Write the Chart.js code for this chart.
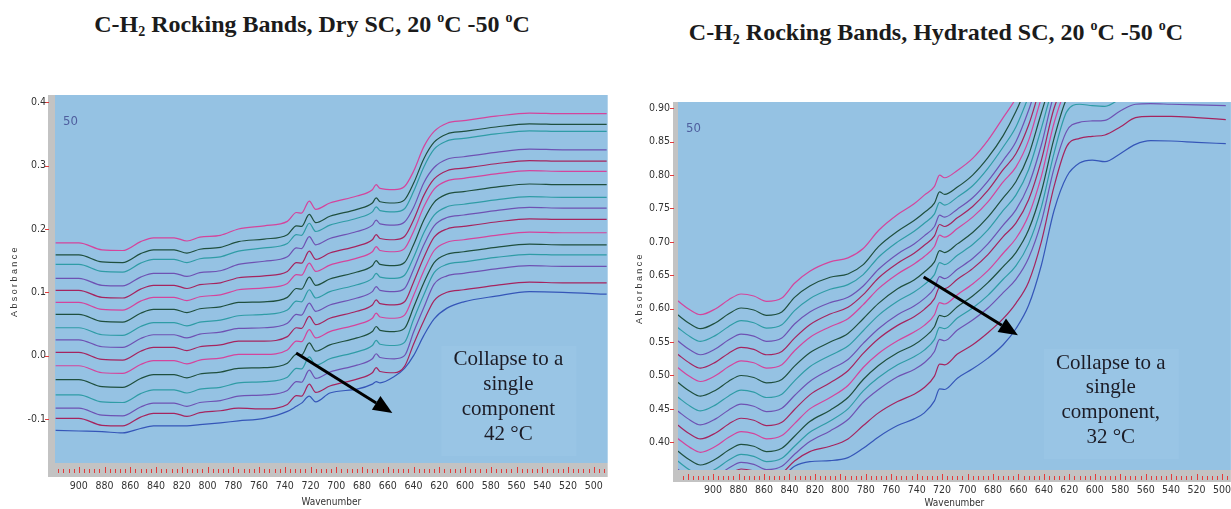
<!DOCTYPE html>
<html>
<head>
<meta charset="utf-8">
<script src="https://cdn.jsdelivr.net/npm/chart.js@4.4.1/dist/chart.umd.min.js"></script>
<style>
  html,body{margin:0;padding:0;background:#fff;width:1231px;height:509px;overflow:hidden;position:relative}
  canvas{position:absolute;top:0}
  #dry{left:0}
  #hyd{left:620px}
  .ttl{position:absolute;font-family:"Liberation Serif","Times New Roman",serif;font-weight:bold;font-size:24px;line-height:24px;color:#1b1b1b;white-space:nowrap;transform:translateX(-50%)}
  .ttl sub,.ttl sup{font-size:14px;position:relative;vertical-align:baseline;line-height:0}
  .ttl sub{top:4px}
  .ttl sup{top:-10px}
</style>
</head>
<body>
<div class="ttl" style="left:312px;top:12px">C-H<sub>2</sub> Rocking Bands, Dry SC, 20 <sup>o</sup>C -50 <sup>o</sup>C</div>
<div class="ttl" style="left:936px;top:20px">C-H<sub>2</sub> Rocking Bands, Hydrated SC, 20 <sup>o</sup>C -50 <sup>o</sup>C</div>
<canvas id="dry" width="620" height="509"></canvas>
<canvas id="hyd" width="625" height="509"></canvas>
<script>
// wavenumbers (cm-1) the spectra are sampled at
const WN_DRY = [918,900,882,866,852,842,826,816,806,790,776,756,738,731,727,721,716,705,684,672,669,666,655,647,640,632,624,614,601,576,550,524,490];
const WN_HYD = [928,918,910,898,888,878,868,858,846,836,824,808,794,782,770,755,742,734,726,722,718,708,696,684,672,662,652,642,632,622,612,602,592,580,568,556,540,520,497];

// dry SC, top trace to bottom trace
const dry01 = [0.178,0.178,0.167,0.166,0.180,0.186,0.186,0.181,0.187,0.190,0.200,0.205,0.212,0.226,0.225,0.244,0.231,0.241,0.252,0.262,0.270,0.264,0.262,0.267,0.291,0.330,0.354,0.367,0.371,0.378,0.383,0.382,0.382];
const dry02 = [0.159,0.159,0.148,0.147,0.161,0.167,0.167,0.162,0.168,0.171,0.180,0.184,0.191,0.205,0.204,0.223,0.210,0.220,0.231,0.241,0.249,0.243,0.241,0.246,0.272,0.311,0.337,0.350,0.354,0.361,0.366,0.365,0.365];
const dry03 = [0.144,0.144,0.133,0.132,0.146,0.152,0.152,0.147,0.153,0.156,0.165,0.170,0.177,0.191,0.190,0.209,0.196,0.206,0.217,0.227,0.235,0.229,0.227,0.232,0.259,0.298,0.326,0.339,0.343,0.350,0.355,0.354,0.354];
const dry04 = [0.122,0.122,0.111,0.110,0.124,0.130,0.130,0.125,0.131,0.134,0.144,0.149,0.156,0.170,0.169,0.188,0.175,0.185,0.196,0.206,0.214,0.208,0.206,0.211,0.234,0.273,0.297,0.310,0.314,0.321,0.326,0.325,0.325];
const dry05 = [0.103,0.103,0.092,0.091,0.105,0.111,0.111,0.106,0.112,0.115,0.123,0.126,0.133,0.147,0.146,0.165,0.152,0.162,0.173,0.183,0.191,0.185,0.183,0.188,0.214,0.253,0.279,0.292,0.296,0.303,0.308,0.307,0.307];
const dry06 = [0.084,0.084,0.073,0.072,0.086,0.092,0.092,0.087,0.093,0.096,0.104,0.107,0.114,0.128,0.127,0.146,0.133,0.143,0.154,0.164,0.172,0.166,0.164,0.169,0.196,0.235,0.263,0.276,0.280,0.287,0.292,0.291,0.291];
const dry07 = [0.065,0.065,0.054,0.053,0.067,0.073,0.073,0.068,0.074,0.077,0.084,0.085,0.092,0.106,0.105,0.124,0.111,0.121,0.132,0.142,0.150,0.144,0.142,0.147,0.175,0.214,0.242,0.255,0.259,0.266,0.271,0.270,0.270];
const dry08 = [0.044,0.044,0.033,0.032,0.046,0.052,0.052,0.047,0.053,0.056,0.063,0.065,0.072,0.086,0.085,0.104,0.091,0.101,0.112,0.122,0.130,0.124,0.122,0.127,0.155,0.194,0.222,0.235,0.239,0.246,0.251,0.250,0.250];
const dry09 = [0.025,0.025,0.014,0.013,0.027,0.033,0.033,0.028,0.034,0.037,0.043,0.044,0.051,0.065,0.064,0.083,0.070,0.080,0.091,0.101,0.109,0.103,0.101,0.106,0.136,0.175,0.205,0.218,0.222,0.229,0.234,0.233,0.233];
const dry10 = [0.005,0.005,-0.006,-0.007,0.007,0.013,0.013,0.008,0.014,0.017,0.023,0.023,0.030,0.044,0.043,0.062,0.049,0.059,0.070,0.080,0.088,0.082,0.080,0.085,0.116,0.155,0.187,0.200,0.204,0.211,0.216,0.215,0.215];
const dry11 = [-0.016,-0.016,-0.027,-0.028,-0.014,-0.008,-0.008,-0.013,-0.007,-0.004,0.002,0.002,0.009,0.023,0.022,0.041,0.028,0.038,0.049,0.059,0.067,0.061,0.059,0.064,0.095,0.134,0.166,0.179,0.183,0.190,0.195,0.194,0.194];
const dry12 = [-0.038,-0.038,-0.049,-0.050,-0.036,-0.030,-0.030,-0.035,-0.029,-0.026,-0.020,-0.019,-0.012,0.002,0.001,0.020,0.007,0.017,0.028,0.038,0.046,0.040,0.038,0.043,0.076,0.115,0.147,0.160,0.164,0.171,0.176,0.175,0.175];
const dry13 = [-0.062,-0.062,-0.073,-0.074,-0.060,-0.054,-0.054,-0.059,-0.053,-0.050,-0.043,-0.041,-0.034,-0.020,-0.021,-0.002,-0.015,-0.005,0.006,0.016,0.024,0.018,0.016,0.021,0.057,0.096,0.131,0.144,0.148,0.155,0.160,0.159,0.159];
const dry14 = [-0.083,-0.083,-0.094,-0.095,-0.081,-0.075,-0.075,-0.080,-0.074,-0.071,-0.064,-0.062,-0.055,-0.041,-0.042,-0.023,-0.036,-0.026,-0.015,-0.005,0.003,-0.003,-0.005,0.000,0.037,0.076,0.113,0.126,0.130,0.137,0.142,0.141,0.141];
const dry15 = [-0.099,-0.099,-0.110,-0.111,-0.097,-0.091,-0.091,-0.096,-0.090,-0.087,-0.083,-0.084,-0.077,-0.063,-0.064,-0.045,-0.058,-0.048,-0.037,-0.027,-0.019,-0.025,-0.027,-0.017,0.018,0.055,0.087,0.100,0.104,0.111,0.116,0.115,0.115];
const dry16 = [-0.118,-0.119,-0.120,-0.122,-0.115,-0.111,-0.111,-0.111,-0.109,-0.106,-0.103,-0.099,-0.088,-0.080,-0.075,-0.064,-0.073,-0.059,-0.053,-0.045,-0.041,-0.043,-0.033,-0.020,0.000,0.032,0.058,0.075,0.085,0.094,0.101,0.100,0.097];

// hydrated SC, top trace to bottom trace (values above 0.91 run off the top)
const hyd01 = [0.612,0.598,0.591,0.600,0.613,0.622,0.619,0.611,0.616,0.638,0.656,0.670,0.676,0.690,0.717,0.741,0.757,0.770,0.783,0.800,0.796,0.807,0.825,0.852,0.886,0.915,0.955,1.00,1.04,1.08,1.10,1.11,1.11,1.12,1.13,1.135,1.135,1.135,1.13];
const hyd02 = [0.591,0.577,0.570,0.579,0.592,0.601,0.598,0.590,0.595,0.617,0.634,0.647,0.652,0.666,0.693,0.716,0.732,0.744,0.758,0.775,0.771,0.782,0.800,0.826,0.859,0.895,0.94,0.99,1.03,1.06,1.08,1.09,1.09,1.10,1.11,1.115,1.115,1.115,1.11];
const hyd03 = [0.572,0.558,0.551,0.560,0.573,0.582,0.579,0.571,0.576,0.597,0.615,0.629,0.636,0.651,0.677,0.700,0.716,0.728,0.742,0.759,0.755,0.767,0.784,0.810,0.842,0.872,0.918,0.97,1.01,1.04,1.06,1.07,1.07,1.08,1.09,1.095,1.095,1.095,1.09];
const hyd04 = [0.552,0.538,0.531,0.540,0.553,0.562,0.559,0.551,0.556,0.577,0.595,0.609,0.617,0.634,0.659,0.682,0.697,0.709,0.723,0.740,0.737,0.749,0.766,0.791,0.822,0.850,0.897,0.955,0.995,1.02,1.04,1.05,1.05,1.06,1.07,1.075,1.075,1.075,1.07];
const hyd05 = [0.532,0.518,0.511,0.520,0.533,0.542,0.539,0.531,0.536,0.556,0.576,0.592,0.602,0.621,0.646,0.668,0.683,0.695,0.709,0.726,0.723,0.736,0.753,0.777,0.808,0.832,0.875,0.935,0.98,1.005,1.02,1.03,1.03,1.04,1.05,1.055,1.055,1.055,1.05];
const hyd06 = [0.512,0.498,0.491,0.500,0.513,0.522,0.519,0.511,0.516,0.537,0.557,0.573,0.585,0.606,0.630,0.652,0.667,0.678,0.693,0.710,0.707,0.720,0.737,0.760,0.790,0.812,0.852,0.915,0.965,0.99,1.0,1.01,1.01,1.02,1.03,1.035,1.035,1.035,1.03];
const hyd07 = [0.490,0.476,0.469,0.478,0.491,0.500,0.497,0.489,0.494,0.514,0.534,0.550,0.563,0.585,0.608,0.630,0.643,0.655,0.670,0.687,0.684,0.697,0.714,0.737,0.766,0.790,0.830,0.893,0.950,0.975,0.985,0.995,0.995,1.005,1.015,1.02,1.02,1.02,1.015];
const hyd08 = [0.468,0.454,0.447,0.456,0.469,0.478,0.475,0.467,0.472,0.492,0.513,0.530,0.544,0.567,0.590,0.611,0.625,0.636,0.651,0.669,0.666,0.680,0.696,0.718,0.747,0.770,0.808,0.870,0.935,0.962,0.970,0.98,0.98,0.99,1.0,1.005,1.005,1.005,1.0];
const hyd09 = [0.447,0.433,0.426,0.435,0.448,0.457,0.454,0.446,0.451,0.470,0.491,0.509,0.524,0.548,0.570,0.591,0.604,0.615,0.631,0.648,0.645,0.659,0.675,0.697,0.725,0.748,0.785,0.845,0.92,0.95,0.958,0.965,0.965,0.975,0.985,0.99,0.99,0.99,0.985];
const hyd10 = [0.426,0.412,0.405,0.414,0.427,0.436,0.433,0.425,0.430,0.449,0.471,0.489,0.507,0.533,0.555,0.575,0.588,0.599,0.615,0.632,0.630,0.644,0.660,0.681,0.708,0.728,0.763,0.822,0.900,0.940,0.950,0.955,0.955,0.965,0.975,0.98,0.98,0.98,0.975];
const hyd11 = [0.406,0.392,0.385,0.394,0.407,0.416,0.413,0.405,0.410,0.428,0.450,0.467,0.485,0.512,0.533,0.552,0.565,0.575,0.591,0.609,0.607,0.621,0.637,0.657,0.683,0.705,0.740,0.798,0.878,0.930,0.945,0.950,0.950,0.96,0.97,0.975,0.975,0.975,0.97];
const hyd12 = [0.387,0.373,0.366,0.375,0.388,0.397,0.394,0.386,0.391,0.409,0.431,0.448,0.467,0.494,0.515,0.534,0.546,0.557,0.573,0.590,0.588,0.603,0.619,0.639,0.663,0.684,0.718,0.775,0.855,0.915,0.935,0.940,0.940,0.95,0.96,0.965,0.965,0.965,0.96];
const hyd13 = [0.372,0.358,0.351,0.360,0.373,0.382,0.379,0.371,0.376,0.394,0.415,0.432,0.450,0.477,0.497,0.516,0.528,0.538,0.554,0.572,0.570,0.586,0.601,0.620,0.644,0.664,0.697,0.752,0.833,0.895,0.906,0.904,0.903,0.915,0.935,0.945,0.948,0.948,0.946];
const hyd14 = [0.360,0.346,0.339,0.348,0.361,0.370,0.367,0.359,0.364,0.382,0.401,0.417,0.434,0.460,0.479,0.498,0.509,0.519,0.536,0.554,0.552,0.568,0.583,0.601,0.624,0.644,0.676,0.730,0.810,0.866,0.879,0.881,0.882,0.896,0.906,0.907,0.906,0.905,0.904];
const hyd15 = [0.350,0.336,0.329,0.338,0.351,0.360,0.357,0.349,0.354,0.372,0.386,0.394,0.405,0.425,0.444,0.461,0.472,0.482,0.499,0.517,0.516,0.532,0.546,0.564,0.585,0.608,0.640,0.700,0.783,0.843,0.855,0.858,0.860,0.872,0.886,0.888,0.888,0.886,0.883];
const hyd16 = [0.342,0.328,0.321,0.330,0.343,0.352,0.349,0.341,0.348,0.364,0.371,0.3725,0.377,0.391,0.408,0.425,0.435,0.444,0.462,0.480,0.479,0.496,0.510,0.526,0.546,0.570,0.605,0.665,0.747,0.798,0.818,0.8225,0.820,0.832,0.846,0.8515,0.851,0.849,0.847];

const DRY = [dry01,dry02,dry03,dry04,dry05,dry06,dry07,dry08,dry09,dry10,dry11,dry12,dry13,dry14,dry15,dry16];
const HYD = [hyd01,hyd02,hyd03,hyd04,hyd05,hyd06,hyd07,hyd08,hyd09,hyd10,hyd11,hyd12,hyd13,hyd14,hyd15,hyd16];

const CYCLE = ['#d4449c','#1f4f3e','#2f9ca6','#6e52b3','#a5245f'];
const LAST = '#3556b8';
const PLOT_BG = '#95c2e3';
const NARROW = '"Liberation Sans Narrow","DejaVu Sans Condensed","Arial Narrow",sans-serif';

function spectra(wn, list){
  return list.map((vals, i) => ({
    data: wn.map((w, k) => ({x: w, y: vals[k]})),
    borderColor: i === list.length-1 ? LAST : CYCLE[i % CYCLE.length],
    borderWidth: 1.2, pointRadius: 0, fill: false,
    cubicInterpolationMode: 'monotone'
  }));
}

// grey frame strips + red tick marks, like the instrument software
function frame(c){
  return {
    id: 'frame',
    beforeDraw(chart){
      const {ctx, chartArea: a} = chart;
      const xs = chart.scales.x, ys = chart.scales.y;
      ctx.save();
      ctx.fillStyle = PLOT_BG;
      ctx.fillRect(a.left, a.top, a.right-a.left, a.bottom-a.top);
      ctx.fillStyle = '#c3c3c3';
      ctx.fillRect(a.left-c.strip, a.top, c.strip, a.bottom-a.top+c.band);
      ctx.fillRect(a.left-c.strip, a.bottom, a.right-a.left+c.strip, c.band);
      ctx.strokeStyle = '#e23b3b'; ctx.lineWidth = 1;
      for(let w = Math.ceil(xs.min/4)*4; w <= xs.max; w += 4){
        const px = Math.round(xs.getPixelForValue(w)) + 0.5;
        ctx.beginPath();
        ctx.moveTo(px, a.bottom + (w % 20 === 0 ? 4 : 6));
        ctx.lineTo(px, a.bottom + 10);
        ctx.stroke();
      }
      ys.ticks.forEach(t => {
        const py = Math.round(ys.getPixelForValue(t.value)) + 0.5;
        ctx.beginPath(); ctx.moveTo(a.left-c.strip-3, py); ctx.lineTo(a.left-c.strip+1, py); ctx.stroke();
      });
      ctx.restore();
    }
  };
}

// "50" label, y title, arrow and the text box
function notes(c){
  return {
    id: 'notes',
    afterDraw(chart){
      const {ctx, chartArea: a} = chart;
      const xs = chart.scales.x, ys = chart.scales.y;
      ctx.save();
      ctx.font = '13px ' + NARROW;
      ctx.fillStyle = '#4f5e9e'; ctx.textAlign = 'left'; ctx.textBaseline = 'middle';
      ctx.fillText('50', a.left + 8, a.top + 27);

      ctx.save();
      ctx.translate(c.titleX, (a.top + a.bottom)/2 + 2);
      ctx.rotate(-Math.PI/2);
      ctx.font = '9px "Liberation Sans",Arial,sans-serif';
      ctx.letterSpacing = '2.4px';
      ctx.fillStyle = '#333'; ctx.textAlign = 'center';
      ctx.fillText('Absorbance', 0, 0);
      ctx.restore();

      // arrow
      const x1 = xs.getPixelForValue(c.arrow[0]), y1 = ys.getPixelForValue(c.arrow[1]);
      const x2 = xs.getPixelForValue(c.arrow[2]), y2 = ys.getPixelForValue(c.arrow[3]);
      const ang = Math.atan2(y2-y1, x2-x1), hl = 19, hw = 8;
      ctx.strokeStyle = '#000'; ctx.fillStyle = '#000'; ctx.lineWidth = 3;
      ctx.beginPath(); ctx.moveTo(x1, y1);
      ctx.lineTo(x2 - hl*Math.cos(ang), y2 - hl*Math.sin(ang)); ctx.stroke();
      ctx.beginPath();
      ctx.moveTo(x2, y2);
      ctx.lineTo(x2 - hl*Math.cos(ang) + hw*Math.sin(ang), y2 - hl*Math.sin(ang) - hw*Math.cos(ang));
      ctx.lineTo(x2 - hl*Math.cos(ang) - hw*Math.sin(ang), y2 - hl*Math.sin(ang) + hw*Math.cos(ang));
      ctx.closePath(); ctx.fill();

      // text box
      const cx = xs.getPixelForValue(c.textAt[0]), cy = ys.getPixelForValue(c.textAt[1]);
      const lh = 24.7;
      ctx.font = '21px "Liberation Serif","Times New Roman",serif';
      ctx.fillStyle = '#99c5e5';
      ctx.fillRect(cx - 67, cy - 14, 135, lh*(c.lines.length-1) + 36);
      ctx.fillStyle = '#1c1c26'; ctx.textAlign = 'center'; ctx.textBaseline = 'middle';
      c.lines.forEach((l, i) => ctx.fillText(l, cx, cy + i*lh));
      ctx.restore();
    }
  };
}

function panel(id, wn, list, c){
  return new Chart(document.getElementById(id), {
    type: 'line',
    data: { datasets: spectra(wn, list) },
    options: {
      responsive: false, animation: false, events: [],
      layout: { padding: { top: c.padTop, right: c.padRight, left: 0, bottom: 0 } },
      plugins: { legend: {display: false}, tooltip: {enabled: false} },
      scales: {
        x: {
          type: 'linear', reverse: true, min: c.xMin, max: c.xMax,
          afterFit: s => { s.height = c.xHeight; },
          grid: {display: false, drawTicks: false}, border: {display: false},
          ticks: {stepSize: 20, includeBounds: false, autoSkip: false, maxRotation: 0,
                  padding: c.xPad, color: '#333', font: {family: NARROW, size: 10.5},
                  callback: v => v <= 900 ? String(v) : ''},
          title: {display: true, text: 'Wavenumber', color: '#333',
                  font: {family: NARROW, size: 10}, padding: {top: 0, bottom: c.xTitlePad}}
        },
        y: {
          min: c.yMin, max: c.yMax,
          afterFit: s => { s.width = c.yWidth; },
          grid: {display: false, drawTicks: false}, border: {display: false},
          ticks: {stepSize: c.yStep, includeBounds: false, padding: c.yPad, color: '#333',
                  font: {family: NARROW, size: 10.5},
                  callback: v => Math.abs(v) < 1e-9 ? (0).toFixed(c.yDec) : v.toFixed(c.yDec)}
        }
      }
    },
    plugins: [frame(c), notes(c)]
  });
}

panel('dry', WN_DRY, DRY, {
  padTop: 95, padRight: 8, xMin: 489.2, xMax: 918.5, yMin: -0.1695, yMax: 0.4115,
  xHeight: 46, yWidth: 55, xPad: 17, yPad: 9, xTitlePad: 1, yStep: 0.1, yDec: 1,
  strip: 7, band: 14, titleX: 15,
  arrow: [731.2, 0.0043, 656.5, -0.0905],
  textAt: [566.3, -0.0068],
  lines: ['Collapse to a', 'single', 'component', '42 °C']
});

panel('hyd', WN_HYD, HYD, {
  padTop: 102, padRight: 0, xMin: 493, xMax: 927.6, yMin: 0.3585, yMax: 0.9094,
  xHeight: 39, yWidth: 58, xPad: 14, yPad: 8, xTitlePad: 0, yStep: 0.05, yDec: 2,
  strip: 5, band: 12, titleX: 20,
  arrow: [734.5, 0.6475, 660.4, 0.5603],
  textAt: [587.4, 0.5187],
  lines: ['Collapse to a', 'single', 'component,', '32 °C']
});
</script>
</body>
</html>
